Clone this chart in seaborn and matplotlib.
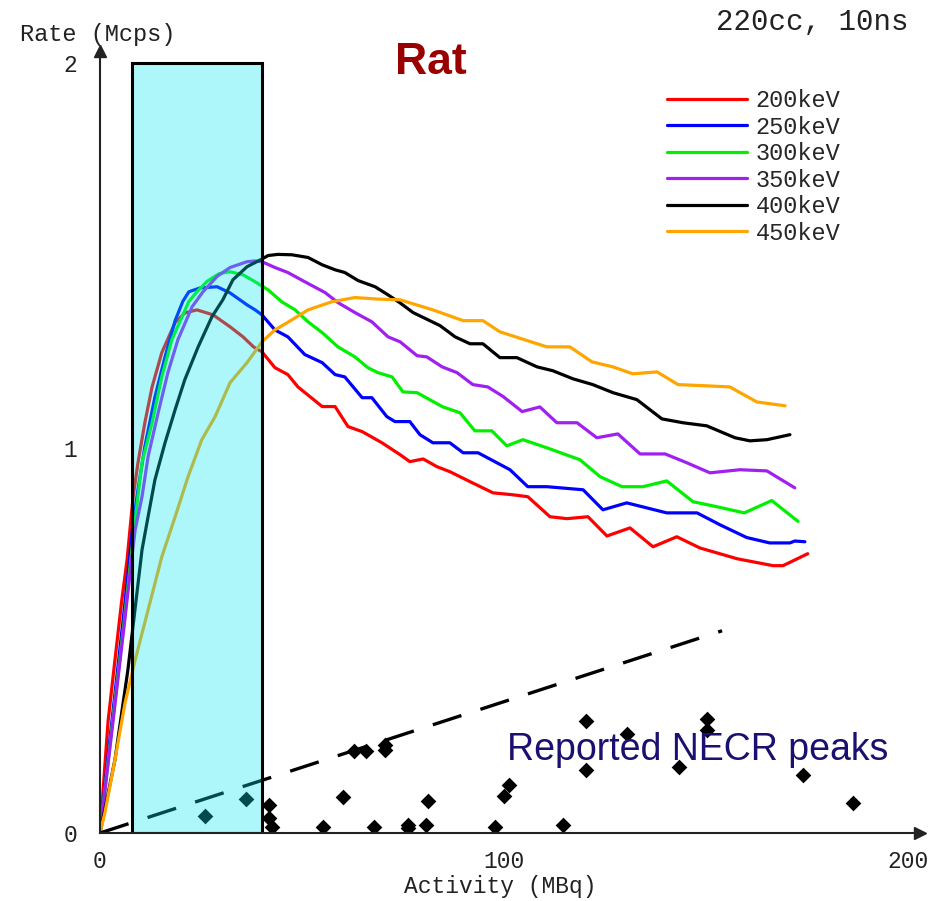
import numpy as np
import pandas as pd
import matplotlib
matplotlib.use("Agg")
import matplotlib.pyplot as plt
from matplotlib.patches import Rectangle
from matplotlib.ticker import FixedLocator, FixedFormatter
import seaborn as sns

# Count-rate curves (Mcps) versus activity (MBq), one per lower energy threshold
x_200 = [0, 2, 3.7, 5.4, 6.7, 8.2, 9.4, 11.1, 12.9, 15.3, 18.6, 21, 24, 28, 32.2, 35.4, 38, 40.1,
         43.3, 46.5, 49, 55, 58.2, 61.4, 64.9, 69.8, 74.3, 76.7, 80, 83.4, 86.6, 92, 97.3, 102.2,
         105.9, 111.4, 115.6, 120.8, 125.5, 131.2, 136.9, 142.8, 148.5, 157.7, 166.6, 169.1, 175.2]
y_200 = [0, 0.29, 0.449, 0.605, 0.709, 0.873, 0.961, 1.065, 1.158, 1.247, 1.325, 1.35, 1.358, 1.345,
         1.314, 1.288, 1.262, 1.249, 1.208, 1.19, 1.158, 1.107, 1.107, 1.055, 1.042, 1.013, 0.982,
         0.964, 0.971, 0.951, 0.938, 0.91, 0.883, 0.878, 0.873, 0.821, 0.816, 0.821, 0.771, 0.792,
         0.743, 0.769, 0.740, 0.712, 0.694, 0.694, 0.725]

x_250 = [0, 2, 4, 6, 8.2, 9.4, 11.1, 13.6, 16.1, 18.6, 20.5, 22, 24.8, 29, 32.2, 36.4, 38.4, 40.1,
         43.3, 46.5, 50.7, 55, 58.2, 60.6, 64.9, 67.3, 71, 73, 76.7, 79.2, 82.4, 86.6, 89.9, 93.6,
         101.5, 105.9, 110.6, 119.6, 124.5, 130.4, 140.3, 147.8, 153.5, 160.1, 165.8, 170.8, 172,
         174.5]
y_250 = [0, 0.2, 0.39, 0.58, 0.805, 0.891, 1.003, 1.132, 1.236, 1.33, 1.38, 1.405, 1.415, 1.418,
         1.402, 1.371, 1.358, 1.345, 1.306, 1.288, 1.242, 1.221, 1.19, 1.184, 1.13, 1.13, 1.081,
         1.068, 1.068, 1.034, 1.013, 1.013, 0.987, 0.987, 0.943, 0.899, 0.899, 0.891, 0.839, 0.857,
         0.831, 0.831, 0.8, 0.767, 0.753, 0.753, 0.758, 0.756]

x_300 = [0, 2, 4, 6, 7.9, 9.2, 10.4, 12.9, 15.3, 17.8, 22, 24, 26.5, 29.5, 32.2, 35.4, 38.4, 41.6,
         45, 48.3, 51.5, 55, 58.9, 63.1, 66.3, 68.8, 72.3, 75, 78.5, 84.9, 89.1, 92.8, 97, 100.7,
         104.7, 110.6, 118.8, 123.8, 129.2, 134.4, 140.3, 146.8, 152.7, 159.5, 166.3, 172.8]
y_300 = [0, 0.185, 0.37, 0.55, 0.735, 0.857, 0.961, 1.065, 1.184, 1.281, 1.38, 1.405, 1.432, 1.452,
         1.457, 1.449, 1.431, 1.41, 1.379, 1.358, 1.327, 1.299, 1.262, 1.236, 1.208, 1.195, 1.184,
         1.145, 1.143, 1.106, 1.091, 1.044, 1.044, 1.005, 1.021, 1.0, 0.969, 0.925, 0.899, 0.899,
         0.914, 0.86, 0.847, 0.831, 0.863, 0.809]

x_350 = [0, 2, 4, 6, 7.9, 8.7, 10.4, 11.9, 14.4, 16.8, 19.3, 22.8, 25.5, 29, 32.2, 36.4, 38.4, 40.1,
         43.3, 46.5, 50.7, 55.7, 58.9, 63.1, 67.3, 71.3, 74.3, 78.5, 80.9, 84.7, 88.4, 92.3, 96,
         99.8, 104.5, 108.9, 113.1, 118.1, 123, 128.2, 133.7, 139.9, 145.3, 151, 158.4, 165.1, 172]
y_350 = [0, 0.18, 0.36, 0.54, 0.717, 0.787, 0.873, 0.977, 1.091, 1.195, 1.281, 1.366, 1.405, 1.445,
         1.468, 1.483, 1.485, 1.483, 1.468, 1.455, 1.431, 1.403, 1.377, 1.351, 1.327, 1.288, 1.275,
         1.239, 1.236, 1.21, 1.195, 1.164, 1.158, 1.133, 1.094, 1.106, 1.065, 1.065, 1.026, 1.036,
         0.984, 0.984, 0.961, 0.935, 0.943, 0.94, 0.896]

x_400 = [0, 3.7, 6.9, 10.4, 11.9, 13.6, 16.1, 18.6, 21, 24.3, 27.7, 30.4, 32.9, 36.4, 40.1, 41.6,
         44, 47.5, 51.5, 55, 58.2, 60.6, 63.9, 68.1, 71.3, 74.3, 77.5, 84.2, 87.9, 91.6, 94.8, 99,
         103.2, 108.2, 112.1, 117.1, 122, 127, 132.9, 139.1, 144.3, 150.2, 157.2, 160.9, 165.1,
         170.8]
y_400 = [0, 0.19, 0.423, 0.735, 0.821, 0.917, 1.013, 1.099, 1.177, 1.262, 1.34, 1.384, 1.436, 1.47,
         1.49, 1.499, 1.502, 1.501, 1.494, 1.475, 1.462, 1.455, 1.434, 1.418, 1.397, 1.376, 1.351,
         1.317, 1.288, 1.27, 1.27, 1.234, 1.234, 1.21, 1.2, 1.179, 1.164, 1.143, 1.125, 1.075,
         1.065, 1.057, 1.026, 1.018, 1.021, 1.034]

x_450 = [0, 1.2, 3.7, 6.2, 8.7, 11.9, 15.3, 18.6, 21.8, 25.2, 28.5, 32.2, 36.4, 40.1, 43.3, 47.5,
         51.5, 57.4, 63.1, 68.8, 74.3, 82.4, 89.9, 94.8, 99, 110.6, 116.3, 121.8, 127, 131.9, 137.9,
         143.1, 149.8, 155.9, 162.6, 169.6]
y_450 = [0, 0.052, 0.19, 0.338, 0.449, 0.579, 0.717, 0.821, 0.925, 1.021, 1.081, 1.169, 1.221,
         1.275, 1.306, 1.332, 1.358, 1.379, 1.39, 1.386, 1.384, 1.358, 1.33, 1.33, 1.301, 1.262,
         1.262, 1.223, 1.21, 1.192, 1.197, 1.164, 1.161, 1.158, 1.119, 1.109]

thresholds = ["200keV", "250keV", "300keV", "350keV", "400keV", "450keV"]
curve_x = [x_200, x_250, x_300, x_350, x_400, x_450]
curve_y = [y_200, y_250, y_300, y_350, y_400, y_450]
curve_colors = ["#ff0000", "#0000ff", "#00f000", "#a020f0", "#000000", "#ffa500"]

# Published NECR peak positions (activity, rate)
peak_activity = [26.0, 36.1, 41.8, 41.8, 42.6, 55.2, 60.1, 62.9, 65.8, 67.8, 70.5, 70.5, 76.2,
                 76.2, 80.7, 81.2, 97.8, 100.0, 101.2, 114.6, 120.3, 120.3, 130.4, 143.3, 150.2,
                 150.2, 174.0, 186.4]
peak_rate = [0.044, 0.088, 0.073, 0.039, 0.016, 0.016, 0.093, 0.213, 0.213, 0.016, 0.229, 0.216,
             0.021, 0.013, 0.021, 0.083, 0.016, 0.096, 0.125, 0.021, 0.291, 0.164, 0.257, 0.171,
             0.296, 0.268, 0.151, 0.078]

# Reference trend line through the peaks
trend_x = [0, 154]
trend_y = [0, 0.525]

# Shaded activity window
window_lo, window_hi = 8, 40

curves = pd.concat(
    [pd.DataFrame({"Activity": xs, "Rate": ys, "Threshold": name})
     for xs, ys, name in zip(curve_x, curve_y, thresholds)],
    ignore_index=True,
)
peaks = pd.DataFrame({"Activity": peak_activity, "Rate": peak_rate})

sns.set_style("white")
mono = "Liberation Mono"
sans = "Liberation Sans"

W, H = 944, 901
fig = plt.figure(figsize=(W / 100, H / 100), dpi=100)
ax = fig.add_axes([100 / W, (H - 833) / H, 820 / W, (833 - 51) / H])

sns.lineplot(data=curves, x="Activity", y="Rate", hue="Threshold",
             palette=dict(zip(thresholds, curve_colors)), hue_order=thresholds,
             sort=False, estimator=None, linewidth=2.3, ax=ax, zorder=3)

ax.plot(trend_x, trend_y, color="black", linewidth=2.4, dashes=(9, 6), zorder=3,
        solid_capstyle="butt", dash_capstyle="butt")

sns.scatterplot(data=peaks, x="Activity", y="Rate", marker="D", s=64, color="black",
                edgecolor="black", linewidth=0, ax=ax, zorder=4, legend=False)

# Translucent window drawn over the curves, with an opaque outline
ax.add_patch(Rectangle((window_lo, 0), window_hi - window_lo, 2.0, facecolor="#00e8f0",
                       alpha=0.32, edgecolor="none", zorder=5))
ax.add_patch(Rectangle((window_lo, 0), window_hi - window_lo, 2.0, facecolor="none",
                       edgecolor="black", linewidth=2.2, zorder=6))

ax.set_xlim(0, 203)
ax.set_ylim(0, 2.03)

for side in ("top", "right"):
    ax.spines[side].set_visible(False)
for side in ("left", "bottom"):
    ax.spines[side].set_color("#222222")
    ax.spines[side].set_linewidth(1.5)
    ax.spines[side].set_zorder(7)

# Arrowheads at the ends of both axes
ax.plot(1, 0, ">", color="#222222", markersize=9, transform=ax.transAxes, clip_on=False, zorder=8)
ax.plot(0, 1, "^", color="#222222", markersize=9, transform=ax.transAxes, clip_on=False, zorder=8)

xt = list(range(0, 201, 10))
ax.xaxis.set_major_locator(FixedLocator(xt))
ax.xaxis.set_major_formatter(FixedFormatter([str(v) if v % 100 == 0 else "" for v in xt]))
yt = [round(0.1 * i, 1) for i in range(21)]
ax.yaxis.set_major_locator(FixedLocator(yt))
ax.yaxis.set_major_formatter(FixedFormatter([str(int(v)) if abs(v - round(v)) < 1e-9 else "" for v in yt]))
ax.tick_params(axis="both", direction="inout", length=9, width=1.2, color="#222222",
               labelsize=16.5, labelcolor="#222222")
ax.tick_params(axis="x", pad=8)
ax.tick_params(axis="y", pad=12)
for lab in ax.get_xticklabels() + ax.get_yticklabels():
    lab.set_fontfamily(mono)

ax.set_xlabel("")
ax.set_ylabel("")
fig.text(500 / W, 1 - 887 / H, "Activity (MBq)", fontfamily=mono, fontsize=16.5,
         color="#222222", ha="center", va="center")
fig.text(20 / W, 1 - 35 / H, "Rate (Mcps)", fontfamily=mono, fontsize=17, color="#222222",
         ha="left", va="center")
fig.text(908 / W, 1 - 22 / H, "220cc, 10ns", fontfamily=mono, fontsize=21, color="#222222",
         ha="right", va="center")
fig.text(431 / W, 1 - 62 / H, "Rat", fontfamily=sans, fontweight="bold", fontsize=32,
         color="#990000", ha="center", va="center")
fig.text(507 / W, 1 - 760 / H, "Reported NECR peaks", fontfamily=sans, fontsize=27,
         color="#1a1070", ha="left", va="baseline", zorder=9)

handles, labels = ax.get_legend_handles_labels()
for h in handles:
    h.set_linewidth(2.3)
ax.legend(handles, labels, loc="upper left", bbox_to_anchor=(667 / W, 1 - 89 / H),
          bbox_transform=fig.transFigure, frameon=False, borderpad=0, borderaxespad=0,
          handlelength=3.4, handletextpad=0.35, labelspacing=0.15,
          prop={"family": mono, "size": 17})

fig.savefig("out.png", dpi=100)
